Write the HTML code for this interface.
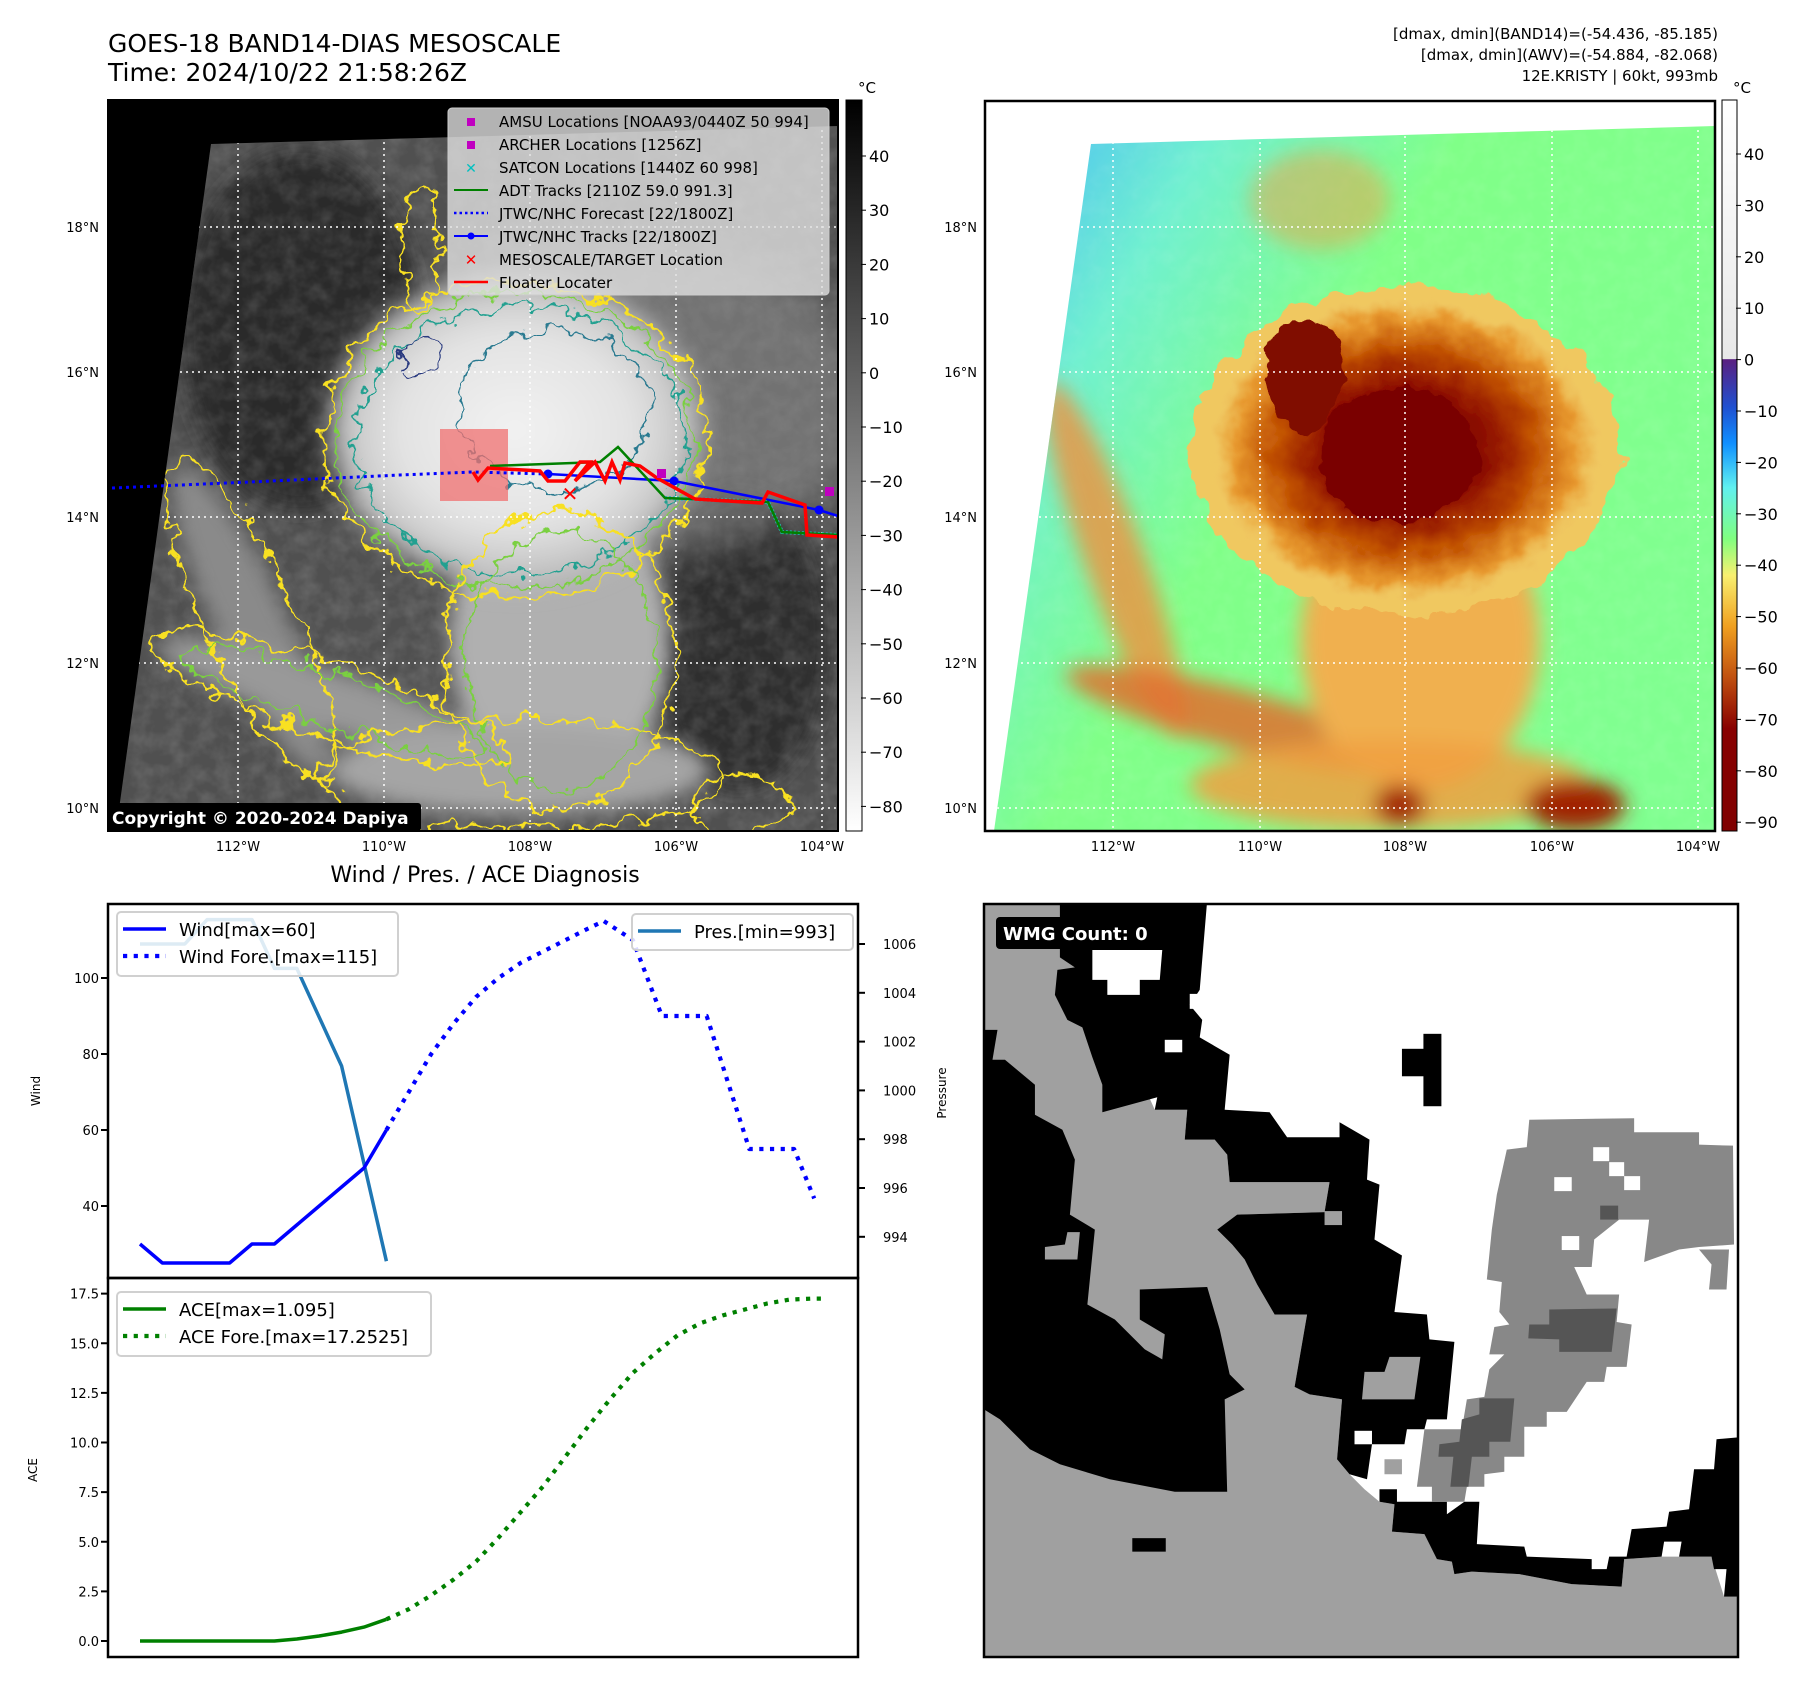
<!DOCTYPE html>
<html><head><meta charset="utf-8"><style>
html,body{margin:0;padding:0;background:#fff;}
svg text{font-family:"DejaVu Sans","Liberation Sans",sans-serif;}
</style></head><body>
<svg id="s" xmlns="http://www.w3.org/2000/svg" width="1801" height="1690" viewBox="0 0 1801 1690">
<defs>
<filter id="wig" x="-20%" y="-20%" width="140%" height="140%"><feTurbulence type="fractalNoise" baseFrequency="0.04" numOctaves="3" seed="3"/><feDisplacementMap in="SourceGraphic" scale="25" xChannelSelector="R" yChannelSelector="G"/></filter>
<filter id="wig2" x="-20%" y="-20%" width="140%" height="140%"><feTurbulence type="fractalNoise" baseFrequency="0.05" numOctaves="3" seed="7"/><feDisplacementMap in="SourceGraphic" scale="30" xChannelSelector="R" yChannelSelector="G"/></filter>
<filter id="blur"><feGaussianBlur stdDeviation="10"/></filter>
<filter id="blur2"><feGaussianBlur stdDeviation="18"/></filter>
<filter id="noise" x="0" y="0" width="100%" height="100%"><feTurbulence type="fractalNoise" baseFrequency="0.06" numOctaves="3" seed="2"/><feColorMatrix type="matrix" values="0 0 0 0 1  0 0 0 0 1  0 0 0 0 1  0 0 0 0.9 -0.3"/></filter>
<radialGradient id="gWhite"><stop offset="0" stop-color="#f2f2f2"/><stop offset="0.6" stop-color="#e2e2e2"/><stop offset="0.85" stop-color="#c5c5c5"/><stop offset="1" stop-color="#bdbdbd" stop-opacity="0"/></radialGradient>
<radialGradient id="gStorm"><stop offset="0" stop-color="#7a0000"/><stop offset="0.4" stop-color="#8a0a00"/><stop offset="0.65" stop-color="#c05000"/><stop offset="0.85" stop-color="#e89a30"/><stop offset="1" stop-color="#f0d070" stop-opacity="0"/></radialGradient>
<linearGradient id="cb1" x1="0" y1="0" x2="0" y2="1"><stop offset="0" stop-color="#000"/><stop offset="1" stop-color="#fff"/></linearGradient>
<linearGradient id="cb2" x1="0" y1="0" x2="0" y2="1">
<stop offset="0" stop-color="#ffffff"/><stop offset="0.354" stop-color="#e8e8e8"/><stop offset="0.355" stop-color="#5a2080"/>
<stop offset="0.42" stop-color="#2050d0"/><stop offset="0.47" stop-color="#1090ff"/><stop offset="0.53" stop-color="#60f0f0"/>
<stop offset="0.6" stop-color="#80ff80"/><stop offset="0.65" stop-color="#f8f070"/><stop offset="0.72" stop-color="#f0a020"/>
<stop offset="0.79" stop-color="#c05010"/><stop offset="0.86" stop-color="#880000"/><stop offset="1" stop-color="#800000"/></linearGradient>
<linearGradient id="gBg2" x1="0" y1="0" x2="1" y2="0.6"><stop offset="0" stop-color="#40b0ff"/><stop offset="0.25" stop-color="#70f0d0"/><stop offset="0.5" stop-color="#80ff88"/><stop offset="1" stop-color="#80ff90"/></linearGradient>
<clipPath id="clipL"><polygon points="211,144 838,126 838,831 116,831"/></clipPath>
<clipPath id="clipR"><polygon points="1091,144 1715,126 1715,831 994,831"/></clipPath>
<clipPath id="clipW"><rect x="984" y="904" width="754" height="753"/></clipPath>
</defs>

<text x="108" y="52" font-size="25" fill="#000">GOES-18 BAND14-DIAS MESOSCALE</text>
<text x="108" y="81" font-size="25" fill="#000">Time: 2024/10/22 21:58:26Z</text>
<text x="1718" y="39" font-size="15" text-anchor="end">[dmax, dmin](BAND14)=(-54.436, -85.185)</text>
<text x="1718" y="60" font-size="15" text-anchor="end">[dmax, dmin](AWV)=(-54.884, -82.068)</text>
<text x="1718" y="81" font-size="15" text-anchor="end">12E.KRISTY | 60kt, 993mb</text>

<!-- LEFT MAP -->
<g>
<rect x="108" y="100" width="730" height="731" fill="#000"/>
<g clip-path="url(#clipL)">
<rect x="100" y="100" width="740" height="735" fill="#505050"/>
<ellipse cx="300" cy="330" rx="120" ry="180" fill="#2c2c2c" filter="url(#blur)"/>
<ellipse cx="740" cy="640" rx="90" ry="150" fill="#2f2f2f" filter="url(#blur)"/>
<rect x="100" y="100" width="740" height="735" filter="url(#noise)" opacity="0.25"/>
<ellipse cx="620" cy="400" rx="250" ry="160" fill="#8a8a8a" opacity="0.6" filter="url(#blur2)"/>
<g filter="url(#blur)">
<ellipse cx="250" cy="620" rx="35" ry="170" transform="rotate(-25 250 620)" fill="#8a8a8a"/>
<ellipse cx="330" cy="700" rx="180" ry="30" transform="rotate(18 330 700)" fill="#999"/>
<ellipse cx="560" cy="640" rx="110" ry="150" fill="#b0b0b0"/>
<ellipse cx="520" cy="770" rx="190" ry="45" fill="#a5a5a5"/>
</g>
<ellipse cx="515" cy="430" rx="200" ry="165" fill="url(#gWhite)" filter="url(#blur)"/>
<g fill="none" filter="url(#wig2)">
<ellipse cx="515" cy="440" rx="192" ry="158" stroke="#f8e020" stroke-width="2.5"/>
<ellipse cx="515" cy="440" rx="180" ry="148" stroke="#7ad040" stroke-width="2"/>
<ellipse cx="520" cy="440" rx="165" ry="135" stroke="#20a090" stroke-width="2"/>
<ellipse cx="555" cy="410" rx="95" ry="80" stroke="#2a7a90" stroke-width="2"/>
<ellipse cx="560" cy="660" rx="115" ry="150" stroke="#f8e020" stroke-width="2.5"/>
<ellipse cx="560" cy="660" rx="95" ry="130" stroke="#7ad040" stroke-width="2"/>
<ellipse cx="250" cy="620" rx="45" ry="175" transform="rotate(-25 250 620)" stroke="#f8e020" stroke-width="2.5"/>
<ellipse cx="330" cy="700" rx="185" ry="38" transform="rotate(18 330 700)" stroke="#f8e020" stroke-width="2.5"/>
<ellipse cx="330" cy="700" rx="160" ry="25" transform="rotate(18 330 700)" stroke="#7ad040" stroke-width="2"/>
<ellipse cx="520" cy="775" rx="205" ry="55" stroke="#f8e020" stroke-width="2.5"/>
<ellipse cx="740" cy="805" rx="50" ry="30" stroke="#f8e020" stroke-width="2.5"/>
<ellipse cx="420" cy="250" rx="18" ry="60" stroke="#f8e020" stroke-width="2.5"/>
<ellipse cx="420" cy="355" rx="20" ry="18" stroke="#2a3a80" stroke-width="2"/>
</g>
<g stroke="#fff" stroke-width="1.5" stroke-dasharray="2 4">
<line x1="238" y1="100" x2="238" y2="831"/><line x1="384" y1="100" x2="384" y2="831"/><line x1="530" y1="100" x2="530" y2="831"/><line x1="676" y1="100" x2="676" y2="831"/><line x1="822" y1="100" x2="822" y2="831"/>
<line x1="108" y1="227" x2="838" y2="227"/><line x1="108" y1="372" x2="838" y2="372"/><line x1="108" y1="517" x2="838" y2="517"/><line x1="108" y1="663" x2="838" y2="663"/><line x1="108" y1="808" x2="838" y2="808"/>
</g>
</g>
<rect x="440" y="429" width="68" height="72" fill="#f07070" opacity="0.75"/>
<polyline points="112,488 250,482 400,475 473,472 548,474" fill="none" stroke="#0000ff" stroke-width="3" stroke-dasharray="3 4"/>
<polyline points="548,474 674,481 819,510 838,516" fill="none" stroke="#0000ff" stroke-width="2.5"/>
<circle cx="548" cy="474" r="4.5" fill="#0000ff"/><circle cx="674" cy="481" r="4.5" fill="#0000ff"/><circle cx="819" cy="510" r="4.5" fill="#0000ff"/>
<polyline points="665,498 768,502 782,532 838,535" fill="none" stroke="#20c0c0" stroke-width="4" stroke-dasharray="2 2"/>
<polyline points="490,466 600,462 618,447 665,498 768,502 782,532 838,535" fill="none" stroke="#008000" stroke-width="2.5"/>
<polyline points="473,472 478,480 488,468 540,471 548,481 565,481 580,462 590,462 575,481 595,462 605,481 612,462 620,480 625,463 640,466 657,478 695,499 762,503 768,492 805,505 807,535 838,537" fill="none" stroke="#ff0000" stroke-width="3.5"/>
<text x="570" y="501" font-size="20" font-weight="bold" fill="#ff0000" text-anchor="middle">✕</text>
<rect x="657" y="469" width="9" height="9" fill="#c000c0"/>
<rect x="825" y="487" width="9" height="9" fill="#c000c0"/>
<g>
<rect x="448" y="108" width="381" height="187" rx="4" fill="#e0e0e0" fill-opacity="0.8" stroke="#ccc"/>
<rect x="467" y="118" width="8" height="8" fill="#c000c0"/>
<rect x="467" y="141" width="8" height="8" fill="#c000c0"/>
<text x="471" y="173" font-size="14" font-weight="bold" fill="#00c0c0" text-anchor="middle">✕</text>
<line x1="454" y1="190" x2="488" y2="190" stroke="#008000" stroke-width="2"/>
<line x1="454" y1="213" x2="488" y2="213" stroke="#0000ff" stroke-width="2.5" stroke-dasharray="2.5 3"/>
<line x1="454" y1="236" x2="488" y2="236" stroke="#0000ff" stroke-width="2"/><circle cx="471" cy="236" r="3.5" fill="#0000ff"/>
<text x="471" y="265" font-size="15" font-weight="bold" fill="#ff0000" text-anchor="middle">✕</text>
<line x1="454" y1="282" x2="488" y2="282" stroke="#ff0000" stroke-width="2.5"/>
<g font-size="15" fill="#000">
<text x="499" y="127">AMSU Locations [NOAA93/0440Z 50 994]</text>
<text x="499" y="150">ARCHER Locations [1256Z]</text>
<text x="499" y="173">SATCON Locations [1440Z 60 998]</text>
<text x="499" y="196">ADT Tracks [2110Z 59.0 991.3]</text>
<text x="499" y="219">JTWC/NHC Forecast [22/1800Z]</text>
<text x="499" y="242">JTWC/NHC Tracks [22/1800Z]</text>
<text x="499" y="265">MESOSCALE/TARGET Location</text>
<text x="499" y="288">Floater Locater</text>
</g></g>
<rect x="108" y="803" width="313" height="28" rx="3" fill="#000"/>
<text x="112" y="824" font-size="17" font-weight="bold" fill="#fff">Copyright © 2020-2024 Dapiya</text>
<rect x="108" y="100" width="730" height="731" fill="none" stroke="#000" stroke-width="2"/>
</g>
<g font-size="13" fill="#000">
<text x="99" y="232" text-anchor="end">18°N</text><text x="99" y="377" text-anchor="end">16°N</text><text x="99" y="522" text-anchor="end">14°N</text><text x="99" y="668" text-anchor="end">12°N</text><text x="99" y="813" text-anchor="end">10°N</text>
<text x="238" y="851" text-anchor="middle">112°W</text><text x="384" y="851" text-anchor="middle">110°W</text><text x="530" y="851" text-anchor="middle">108°W</text><text x="676" y="851" text-anchor="middle">106°W</text><text x="822" y="851" text-anchor="middle">104°W</text>
</g>
<g>
<rect x="846" y="100" width="16" height="731" fill="url(#cb1)" stroke="#000" stroke-width="1"/>
<text x="858" y="93" font-size="15">°C</text>
<g id="cb1t" font-size="16"></g>
</g>

<!-- RIGHT MAP -->
<g>
<g clip-path="url(#clipR)">
<rect x="985" y="100" width="730" height="731" fill="url(#gBg2)"/>
<rect x="985" y="100" width="730" height="731" filter="url(#noise)" opacity="0.15"/>
<g filter="url(#blur)">
<ellipse cx="1115" cy="560" rx="30" ry="190" transform="rotate(-20 1115 560)" fill="#f09040" opacity="0.8"/>
<ellipse cx="1240" cy="720" rx="180" ry="30" transform="rotate(15 1240 720)" fill="#e07030" opacity="0.85"/>
<ellipse cx="1420" cy="640" rx="120" ry="150" fill="#f0b050"/>
<ellipse cx="1390" cy="785" rx="200" ry="45" fill="#f0a040" opacity="0.85"/>
<ellipse cx="1320" cy="200" rx="70" ry="50" fill="#f0a040" opacity="0.5"/>
<ellipse cx="1575" cy="805" rx="50" ry="25" fill="#a02000"/>
<ellipse cx="1400" cy="805" rx="25" ry="20" fill="#a02000"/>
</g>
<g filter="url(#wig)">
<ellipse cx="1405" cy="450" rx="215" ry="165" fill="#f0c860"/>
<ellipse cx="1405" cy="450" rx="200" ry="155" fill="url(#gStorm)"/>
<ellipse cx="1400" cy="455" rx="80" ry="68" fill="#7a0000"/>
<ellipse cx="1305" cy="375" rx="40" ry="55" fill="#800800"/>
</g>
<g stroke="#fff" stroke-width="1.5" stroke-dasharray="2 4">
<line x1="1113" y1="100" x2="1113" y2="831"/><line x1="1260" y1="100" x2="1260" y2="831"/><line x1="1405" y1="100" x2="1405" y2="831"/><line x1="1552" y1="100" x2="1552" y2="831"/><line x1="1698" y1="100" x2="1698" y2="831"/>
<line x1="985" y1="227" x2="1715" y2="227"/><line x1="985" y1="372" x2="1715" y2="372"/><line x1="985" y1="517" x2="1715" y2="517"/><line x1="985" y1="663" x2="1715" y2="663"/><line x1="985" y1="808" x2="1715" y2="808"/>
</g>
</g>
<rect x="985" y="101" width="730" height="730" fill="none" stroke="#000" stroke-width="2.5"/>
</g>
<g font-size="13" fill="#000">
<text x="977" y="232" text-anchor="end">18°N</text><text x="977" y="377" text-anchor="end">16°N</text><text x="977" y="522" text-anchor="end">14°N</text><text x="977" y="668" text-anchor="end">12°N</text><text x="977" y="813" text-anchor="end">10°N</text>
<text x="1113" y="851" text-anchor="middle">112°W</text><text x="1260" y="851" text-anchor="middle">110°W</text><text x="1405" y="851" text-anchor="middle">108°W</text><text x="1552" y="851" text-anchor="middle">106°W</text><text x="1698" y="851" text-anchor="middle">104°W</text>
</g>
<g>
<rect x="1722" y="100" width="15" height="731" fill="url(#cb2)" stroke="#000" stroke-width="1"/>
<text x="1733" y="93" font-size="15">°C</text>
<g id="cb2t" font-size="16"></g>
</g>

<!-- WIND/PRES/ACE -->
<text x="485" y="882" font-size="22" text-anchor="middle">Wind / Pres. / ACE Diagnosis</text>
<g id="chart"></g>

<!-- WMG -->
<g>
<g clip-path="url(#clipW)">
<svg x="984" y="904" width="754" height="753" viewBox="8 8 1510 1508" preserveAspectRatio="none">
<rect x="0" y="0" width="1530" height="1530" fill="#a0a0a0"/>
<polygon fill="#fff" points="455,0 1530,0 1530,1395 1490,1395 1465,1315 1400,1315 1365,1315 1290,1320 1285,1375 1185,1370 1080,1350 985,1345 950,1350 945,1325 915,1320 890,1270 825,1265 830,1210 800,1205 770,1180 740,1150 715,1120 725,1000 660,990 630,975 655,830 590,830 555,770 530,720 505,690 475,660 515,630 690,625 700,565 500,565 495,510 470,480 410,480 415,420 350,420 160,0"/>
<polygon fill="#000" points="160,0 455,0 440,180 420,210 445,240 440,275 500,310 490,420 580,425 615,475 720,475 720,445 780,480 775,560 800,570 790,680 845,712 830,825 895,830 900,880 950,885 935,1040 895,1040 890,1060 855,1060 850,1090 785,1090 775,1160 740,1150 715,1120 725,1000 660,990 630,975 655,830 590,830 555,770 530,720 505,690 475,660 515,630 690,625 700,565 500,565 495,510 470,480 410,480 415,420 350,420 355,395 245,425 245,370 225,315 205,255 175,240 150,190 155,140 190,135 160,115"/>
<polygon fill="#000" points="8,320 50,320 110,370 110,430 165,460 190,520 180,630 230,660 215,810 270,840 330,900 365,920 370,870 320,840 320,780 455,775 480,860 500,950 530,980 490,1000 495,1185 390,1185 260,1160 160,1130 100,1100 40,1040 8,1020"/>
<polygon fill="#000" points="8,260 35,260 25,320 8,390"/>
<polygon fill="#fff" points="225,100 365,100 360,160 320,160 320,190 255,190 255,160 225,160"/>
<rect x="370" y="280" width="35" height="25" fill="#fff"/>
<rect x="888" y="268" width="36" height="145" fill="#000"/>
<rect x="845" y="298" width="50" height="55" fill="#000"/>
<rect x="420" y="188" width="30" height="30" fill="#fff"/>
<polygon fill="#000" points="1530,1075 1475,1080 1470,1140 1430,1140 1420,1220 1380,1225 1375,1255 1305,1260 1295,1315 1260,1315 1255,1340 1225,1340 1225,1320 1095,1315 1090,1295 995,1290 1000,1205 970,1205 935,1230 935,1205 835,1205 835,1180 800,1180 800,1205 830,1210 825,1265 890,1270 915,1320 945,1325 950,1350 985,1345 1080,1350 1185,1370 1285,1375 1290,1320 1365,1315 1370,1285 1405,1285 1400,1315 1465,1315 1470,1340 1495,1340 1490,1395 1530,1395"/>
<polygon fill="#888" points="1100,440 1310,437 1310,465 1440,465 1440,490 1508,492 1510,690 1440,695 1400,700 1330,725 1340,640 1280,640 1230,680 1225,735 1190,735 1215,790 1280,790 1275,845 1305,850 1295,935 1255,935 1250,965 1215,965 1175,1025 1135,1025 1135,1055 1090,1055 1090,1115 1050,1115 1050,1145 1010,1150 1010,1175 975,1175 970,1205 905,1205 905,1175 875,1175 890,1060 965,1060 975,1000 1010,995 1020,940 1050,910 1020,910 1030,855 1060,850 1040,825 1045,765 1015,760 1025,660 1035,590 1055,500 1095,495"/>
<polygon fill="#888" points="1440,700 1500,700 1495,780 1460,780 1465,730"/>
<polygon fill="#555" points="1140,820 1275,818 1265,905 1160,905 1160,880 1098,878 1100,850 1140,850"/>
<polygon fill="#555" points="1000,998 1070,998 1062,1085 1020,1085 1020,1115 985,1115 978,1175 942,1175 948,1115 918,1115 920,1090 960,1085 965,1040 1000,1030"/>
<rect x="1242" y="612" width="36" height="28" fill="#555"/>
<rect x="1150" y="555" width="35" height="28" fill="#fff"/><rect x="1165" y="673" width="35" height="28" fill="#fff"/>
<rect x="1228" y="495" width="32" height="28" fill="#fff"/><rect x="1260" y="525" width="30" height="28" fill="#fff"/><rect x="1290" y="553" width="32" height="28" fill="#fff"/>
<polygon fill="#a0a0a0" points="770,945 810,945 820,915 882,915 870,1000 765,1000"/>
<rect x="690" y="623" width="35" height="28" fill="#a0a0a0"/>
<polygon fill="#a0a0a0" points="130,695 170,690 175,665 200,665 195,720 130,720"/>
<rect x="750" y="1063" width="35" height="27" fill="#fff"/>
<rect x="810" y="1120" width="35" height="30" fill="#a0a0a0"/>
<rect x="305" y="1278" width="67" height="27" fill="#000"/>
</svg>
</g>
<rect x="984" y="904" width="754" height="753" fill="none" stroke="#000" stroke-width="2.5"/>
<rect x="996" y="917" width="180" height="32" rx="4" fill="#000"/>
<text x="1003" y="940" font-size="18" font-weight="bold" fill="#fff">WMG Count: 0</text>
</g>

<script>
var NS='http://www.w3.org/2000/svg';
var windIdx=[0,1,2,3,4,5,6,7,8,9,10,11];
var windVals=[30,25,25,25,25,30,30,35,40,45,50,60];
var windForeIdx=[11,12,13,14,15,16,17,18,19,20,20.7,22,23.3,25.3,27.2,29.2,30.1];
var windForeVals=[60,70,80,88,95,100,104,107,110,113,115,110,90,90,55,55,42];
var presIdx=[0,1,2,3,4,5,6,7,8,9,10,11];
var presVals=[1006,1006,1006,1007,1007,1007,1005,1005,1003,1001,997,993];
var aceIdx=[0,1,2,3,4,5,6,7,8,9,10,11];
var aceVals=[0,0,0,0,0,0,0,0.1,0.25,0.45,0.7,1.095];
var aceForeIdx=[11,12,13,14,15,16,17,18,19,20,21,22,23,24,25,26,27,28,29,30,30.6];
var aceForeVals=[1.095,1.6,2.3,3.1,4.0,5.2,6.5,7.8,9.3,10.8,12.2,13.5,14.5,15.4,16.0,16.4,16.7,17.0,17.2,17.25,17.25];
var windTicks=[40,60,80,100];
var presTicks=[994,996,998,1000,1002,1004,1006];
var aceTicks=[0,2.5,5,7.5,10,12.5,15,17.5];
var cb1Ticks=[40,30,20,10,0,-10,-20,-30,-40,-50,-60,-70,-80];
var cb2Ticks=[40,30,20,10,0,-10,-20,-30,-40,-50,-60,-70,-80,-90];

function xs(i){return 140+i*22.4;}
function yW(v){return 978+(100-v)*3.8;}
function yP(p){return 944+(1006-p)*24.4;}
function yA(a){return 1641-a*19.85;}
function yC1(v){return 156+(40-v)*5.42;}
function yC2(v){return 154+(40-v)*5.14;}

function el(tag,attrs,parent){var e=document.createElementNS(NS,tag);for(var k in attrs)e.setAttribute(k,attrs[k]);parent.appendChild(e);return e;}
var chart=document.getElementById('chart');

function line(idx,vals,fy,color,dash,name){
  var pts=idx.map(function(i,k){return xs(i).toFixed(1)+','+fy(vals[k]).toFixed(1);}).join(' ');
  var a={points:pts,fill:'none',stroke:color,'stroke-width':dash?4.2:3.5,'stroke-linejoin':'round'};
  if(dash)a['stroke-dasharray']='4.2 6.5';
  var p=el('polyline',a,chart);
  
  
}
line(presIdx,presVals,yP,'#1f77b4',false,'pressure-line');
line(windIdx,windVals,yW,'#0000ff',false,'wind-line');
line(windForeIdx,windForeVals,yW,'#0000ff',true,'wind-forecast-line');
line(aceIdx,aceVals,yA,'#008000',false,'ace-line');
line(aceForeIdx,aceForeVals,yA,'#008000',true,'ace-forecast-line');

function tick(x1,x2,y,label,tx,anchor,fs,name){
  var t=el('line',{x1:x1,x2:x2,y1:y,y2:y,stroke:'#000','stroke-width':2},chart);
  
  
  var s=el('text',{x:tx,y:y+5,'font-size':fs,'text-anchor':anchor},chart);
  s.textContent=label;
  
  
}
windTicks.forEach(function(v){tick(101,108,yW(v),String(v),99,'end',13,'wind-axis');});
presTicks.forEach(function(v){tick(858,865,yP(v),String(v),883,'start',13,'pressure-axis');});
aceTicks.forEach(function(v){tick(101,108,yA(v),v.toFixed(1),99,'end',13,'ace-axis');});

var f1=el('rect',{x:108,y:904,width:750,height:374,fill:'none',stroke:'#000','stroke-width':2.5},chart);


var f2=el('rect',{x:108,y:1278,width:750,height:379,fill:'none',stroke:'#000','stroke-width':2.5},chart);



function axLabel(x,y,txt,name){
  var t=el('text',{x:x,y:y,'font-size':12,'text-anchor':'middle',transform:'rotate(-90 '+x+' '+y+')'},chart);
  t.textContent=txt;
  
  
}
axLabel(40,1091,'Wind','wind-axis-title');
axLabel(946,1093,'Pressure','pressure-axis-title');
axLabel(37,1470,'ACE','ace-axis-title');

function legend(x,y,w,h,items,name){
  var g=el('g',{},chart);
  
  
  el('rect',{x:x,y:y,width:w,height:h,rx:4,fill:'#fff','fill-opacity':0.85,stroke:'#d0d0d0','stroke-width':2},g);
  items.forEach(function(it,k){
    var yy=y+17+k*27;
    var a={x1:x+6,x2:x+49,y1:yy,y2:yy,stroke:it.c,'stroke-width':it.d?4.2:3.5};
    if(it.d)a['stroke-dasharray']='4.2 6.5';
    el('line',a,g);
    var t=el('text',{x:x+62,y:yy+7,'font-size':18},g);
    t.textContent=it.t;
  });
}
legend(117,912,281,64,[{c:'#0000ff',t:'Wind[max=60]'},{c:'#0000ff',t:'Wind Fore.[max=115]',d:true}],'wind-legend');
legend(632,914,221,36,[{c:'#1f77b4',t:'Pres.[min=993]'}],'pressure-legend');
legend(117,1292,314,64,[{c:'#008000',t:'ACE[max=1.095]'},{c:'#008000',t:'ACE Fore.[max=17.2525]',d:true}],'ace-legend');

function cbTicks(gid,ticks,fy,x,name){
  var g=document.getElementById(gid);
  ticks.forEach(function(v){
    var y=fy(v);
    el('line',{x1:x-1,x2:x+4,y1:y,y2:y,stroke:'#000','stroke-width':1},g);
    var t=el('text',{x:x+7,y:y+6},g);
    t.textContent=(v<0?'\u2212'+(-v):String(v));
    
    
  });
}
cbTicks('cb1t',cb1Ticks,yC1,862,'left-colorbar');
cbTicks('cb2t',cb2Ticks,yC2,1737,'right-colorbar');
</script>
</svg>
</body></html>
